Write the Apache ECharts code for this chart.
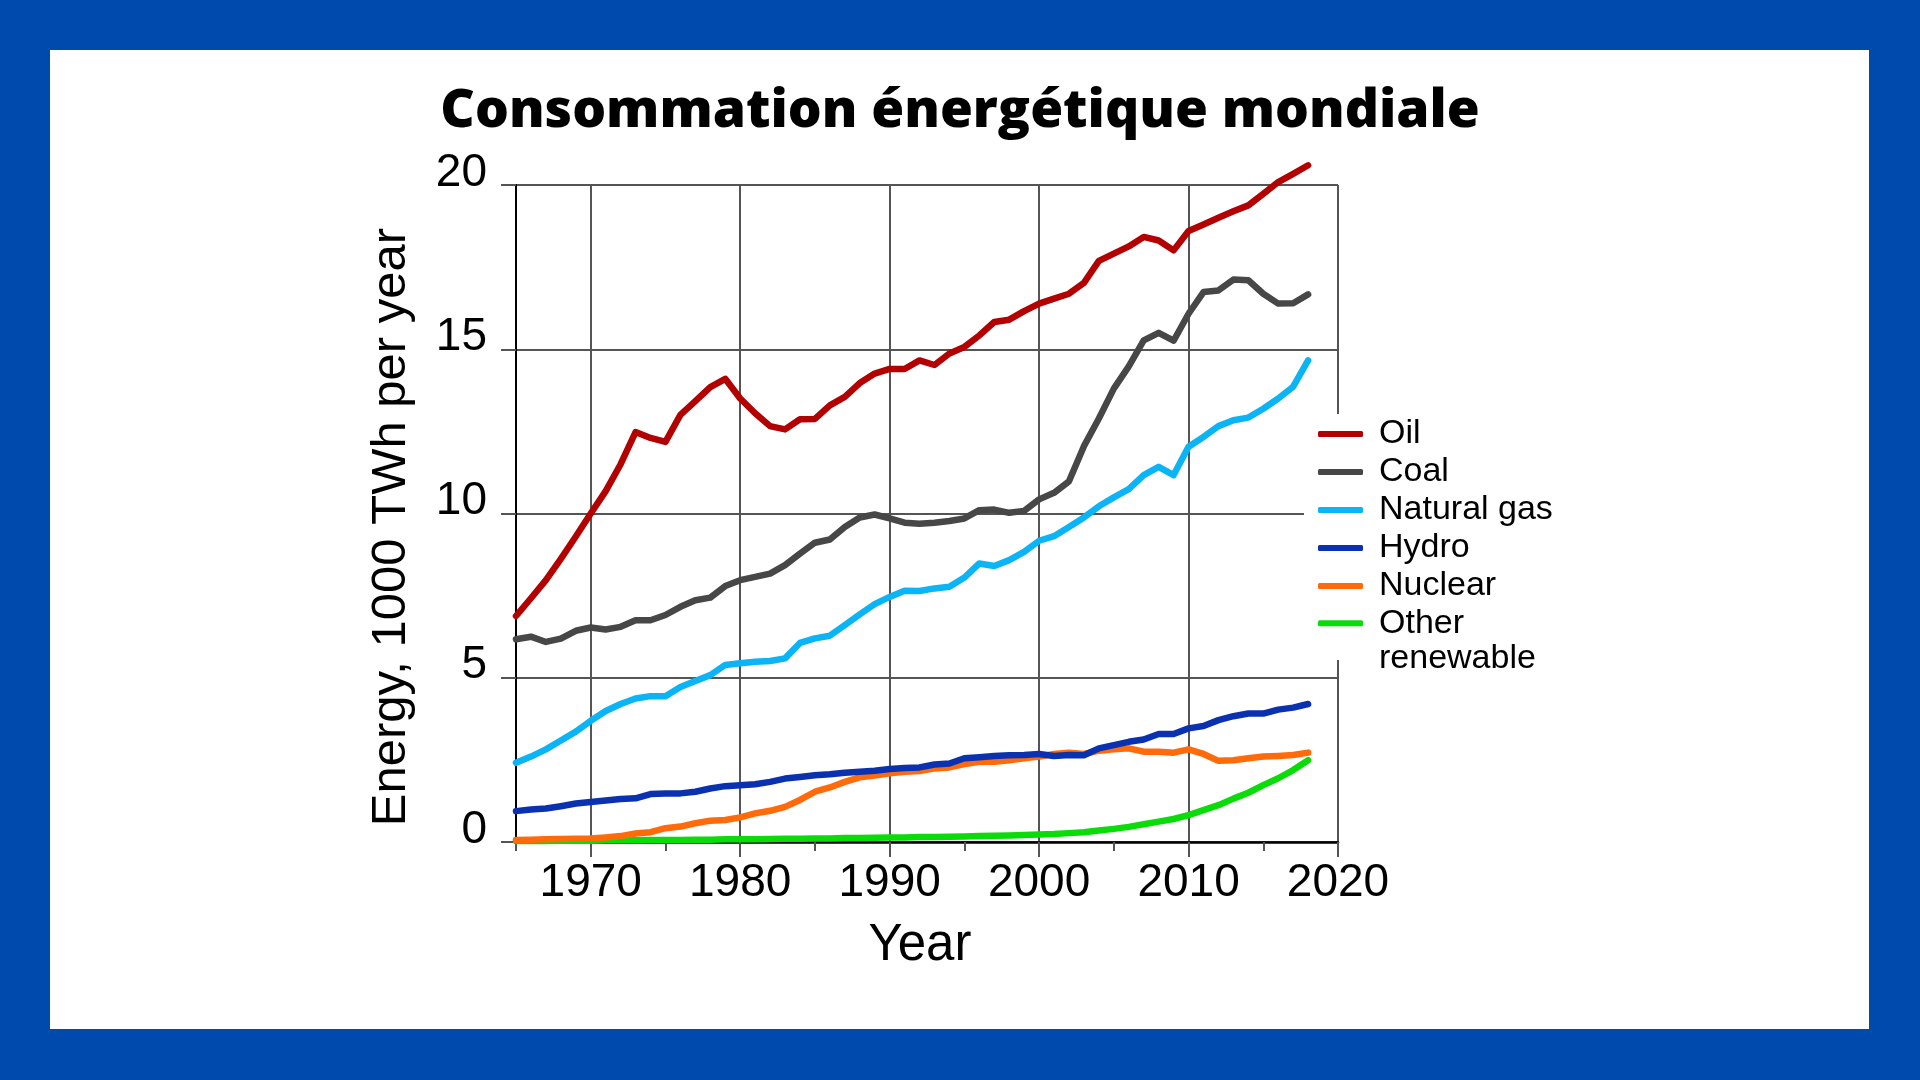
<!DOCTYPE html>
<html><head><meta charset="utf-8">
<script src="https://cdn.jsdelivr.net/npm/echarts@6/dist/echarts.min.js"></script>
<style>
html,body{margin:0;padding:0;background:#004AAD;width:1920px;height:1080px;overflow:hidden}
#panel{position:absolute;left:50px;top:50px;width:1819px;height:979px;background:#fff}
#chart{position:absolute;left:0;top:0;width:1920px;height:1080px}
</style></head><body>
<div id="panel"></div><div id="chart"></div>
<script>
const years = [1965,1966,1967,1968,1969,1970,1971,1972,1973,1974,1975,1976,1977,1978,1979,1980,1981,1982,1983,1984,1985,1986,1987,1988,1989,1990,1991,1992,1993,1994,1995,1996,1997,1998,1999,2000,2001,2002,2003,2004,2005,2006,2007,2008,2009,2010,2011,2012,2013,2014,2015,2016,2017,2018,2019,2020];
const yTicks = [0,5,10,15,20];
const oil = [6.88,7.42,7.97,8.62,9.3,10.0,10.68,11.5,12.48,12.3,12.18,13.0,13.42,13.85,14.1,13.5,13.05,12.66,12.56,12.87,12.88,13.29,13.55,13.97,14.26,14.4,14.4,14.66,14.52,14.87,15.07,15.42,15.83,15.9,16.16,16.39,16.54,16.69,17.02,17.69,17.91,18.13,18.42,18.31,18.01,18.6,18.8,19.0,19.2,19.38,19.73,20.09,20.34,20.6];
const coal = [6.17,6.25,6.09,6.19,6.43,6.53,6.47,6.55,6.75,6.75,6.91,7.16,7.36,7.44,7.79,7.97,8.07,8.17,8.43,8.78,9.11,9.21,9.59,9.88,9.97,9.85,9.72,9.69,9.72,9.77,9.85,10.1,10.12,10.02,10.08,10.43,10.63,10.98,12.05,12.89,13.8,14.48,15.27,15.5,15.26,16.08,16.74,16.79,17.12,17.1,16.69,16.39,16.4,16.67];
const gas = [2.41,2.6,2.82,3.09,3.36,3.69,3.99,4.2,4.37,4.44,4.44,4.72,4.9,5.08,5.39,5.44,5.49,5.51,5.59,6.06,6.2,6.28,6.6,6.93,7.24,7.46,7.65,7.64,7.72,7.77,8.05,8.48,8.4,8.58,8.83,9.17,9.31,9.59,9.88,10.22,10.49,10.74,11.17,11.42,11.17,12.03,12.33,12.66,12.84,12.92,13.19,13.5,13.86,14.66];
const hydro = [0.94,0.99,1.02,1.09,1.17,1.22,1.26,1.31,1.33,1.46,1.48,1.48,1.53,1.63,1.7,1.73,1.76,1.83,1.93,1.98,2.03,2.06,2.11,2.14,2.17,2.22,2.25,2.27,2.36,2.39,2.55,2.58,2.62,2.64,2.65,2.68,2.62,2.65,2.64,2.85,2.95,3.05,3.12,3.29,3.29,3.46,3.53,3.71,3.83,3.91,3.91,4.03,4.09,4.2];
const nuclear = [0.06,0.07,0.08,0.09,0.1,0.11,0.14,0.18,0.26,0.3,0.42,0.47,0.57,0.65,0.67,0.75,0.87,0.95,1.07,1.28,1.53,1.66,1.83,1.97,2.02,2.09,2.14,2.16,2.24,2.27,2.37,2.44,2.44,2.49,2.55,2.6,2.68,2.72,2.68,2.78,2.82,2.85,2.75,2.75,2.72,2.82,2.68,2.47,2.49,2.55,2.6,2.62,2.65,2.72];
const otherRenewable = [0.03,0.03,0.03,0.04,0.04,0.04,0.05,0.05,0.05,0.06,0.06,0.06,0.07,0.07,0.08,0.08,0.08,0.09,0.1,0.1,0.11,0.11,0.12,0.12,0.13,0.14,0.14,0.15,0.15,0.16,0.17,0.18,0.19,0.2,0.21,0.23,0.24,0.27,0.3,0.35,0.4,0.46,0.54,0.62,0.7,0.82,0.97,1.12,1.32,1.5,1.73,1.94,2.19,2.49];
const seriesNames = ['Oil','Coal','Natural gas','Hydro','Nuclear','Other renewable'];
const seriesColors = ['#B30000','#474747','#0AB4F5','#0A32B0','#FF6A0A','#0ADC0A'];
const seriesValues = [oil, coal, gas, hydro, nuclear, otherRenewable];

const FONT = 'Liberation Sans';
const chart = echarts.init(document.getElementById('chart'), null, {renderer:'canvas'});

const series = [];
for (let i = seriesNames.length - 1; i >= 0; i--) {
  series.push({
    name: seriesNames[i], type: 'line', data: seriesValues[i],
    xAxisIndex: 0, yAxisIndex: 0,
    symbol: 'none', clip: false, smooth: false,
    color: seriesColors[i],
    lineStyle: {width: 6.5, color: seriesColors[i], cap: 'round', join: 'round'}
  });
}

chart.setOption({
  animation: false,
  title: {
    text: 'Consommation énergétique mondiale', left: 'center', top: 80,
    textStyle: {fontFamily: 'Open Sans', fontWeight: 800, fontSize: 53.3, color: '#000'}
  },
  grid: {left: 516, right: 582, top: 185, bottom: 238, containLabel: false},
  legend: [
    {
      data: ['Oil','Coal','Natural gas','Hydro','Nuclear'],
      orient: 'vertical', left: 1304, top: 414, icon: 'roundRect',
      itemWidth: 45, itemHeight: 6, itemGap: 0,
      backgroundColor: '#fff', padding: [1, 10, 55, 14],
      selectedMode: false,
      textStyle: {fontFamily: FONT, fontSize: 34, lineHeight: 38, color: '#000', padding: [0,0,0,11]}
    },
    {
      data: ['Other renewable'],
      formatter: function (n) { return n === 'Other renewable' ? '\u00a0\nOther\nrenewable' : n; },
      orient: 'vertical', left: 1304, top: 570, icon: 'roundRect',
      itemWidth: 45, itemHeight: 6, itemGap: 0,
      padding: [0, 10, 0, 14], selectedMode: false,
      textStyle: {fontFamily: FONT, fontSize: 34, lineHeight: 35.5, color: '#000', padding: [0,0,0,11]}
    }
  ],
  xAxis: [
    {
      type: 'category', data: years, boundaryGap: false, position: 'bottom',
      axisLine: {show: true, onZero: false, lineStyle: {color: '#000', width: 2.5}},
      axisTick: {show: true, interval: function (i, v) { return Number(v) % 5 === 0; }, length: 9, lineStyle: {color: '#555', width: 2}},
      axisLabel: {interval: function (i, v) { return Number(v) % 10 === 0; }, fontSize: 46, fontFamily: FONT, color: '#000', margin: 18},
      splitLine: {show: false},
      name: 'Year ', nameLocation: 'middle', nameGap: 78,
      nameTextStyle: {fontSize: 51, fontFamily: FONT, color: '#000'}
    },
    {
      type: 'category', data: years, boundaryGap: false, position: 'bottom',
      axisLine: {show: false},
      axisTick: {show: true, interval: function (i, v) { return Number(v) % 10 === 0; }, length: 15, lineStyle: {color: '#555', width: 2}},
      axisLabel: {show: false},
      splitLine: {show: true, interval: function (i, v) { return Number(v) % 10 === 0; }, lineStyle: {color: '#555', width: 2}}
    }
  ],
  yAxis: {
    type: 'value', min: yTicks[0], max: yTicks[yTicks.length - 1], interval: 5,
    axisLine: {show: true, lineStyle: {color: '#000', width: 2}},
    axisTick: {show: true, length: 15, lineStyle: {color: '#555', width: 2}},
    axisLabel: {fontSize: 46, fontFamily: FONT, color: '#000', margin: 29, verticalAlign: 'bottom', lineHeight: 24},
    splitLine: {show: true, lineStyle: {color: '#555', width: 2}},
    name: 'Energy, 1000 TWh per year  ', nameLocation: 'middle', nameGap: 100,
    nameTextStyle: {fontSize: 49, fontFamily: FONT, color: '#000'}
  },
  series: series
});
</script>
</body></html>
